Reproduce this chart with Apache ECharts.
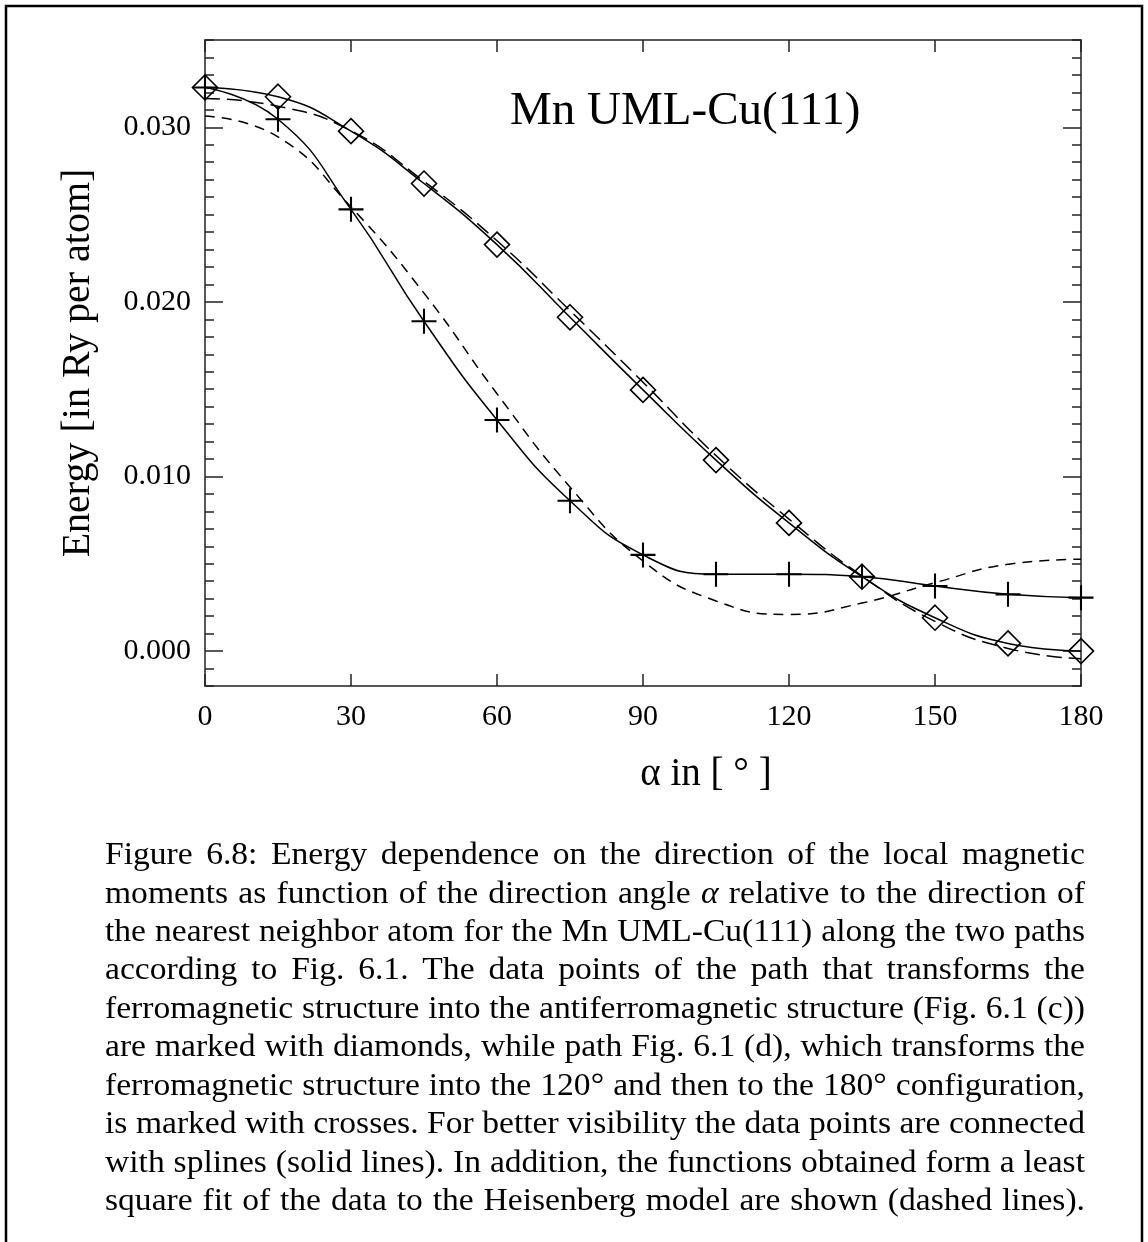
<!DOCTYPE html>
<html><head><meta charset="utf-8">
<script src="https://cdn.jsdelivr.net/npm/echarts@6/dist/echarts.min.js"></script>
<style>html,body{margin:0;padding:0;background:#fff}#c{width:1148px;height:1242px}</style>
</head><body><div id="c"></div><script>
// ---- data ----
const angles = [0, 15, 30, 45, 60, 75, 90, 105, 120, 135, 150, 165, 180];
const diamondEnergy = [0.03228, 0.03175, 0.02978, 0.02678, 0.02328, 0.01912, 0.01496, 0.01094, 0.00734, 0.00426, 0.00191, 0.00044, 0.0000];
const crossEnergy   = [0.03228, 0.03046, 0.02530, 0.01889, 0.01324, 0.00861, 0.00551, 0.00440, 0.00440, 0.00426, 0.00373, 0.00325, 0.00306];
const diamondFit    = [0.03165, 0.03121, 0.02980, 0.02690, 0.02350, 0.01950, 0.01540, 0.01120, 0.00756, 0.00430, 0.00170, 0.00015, -0.00044];
const crossFit      = [0.03064, 0.02945, 0.02543, 0.02050, 0.01474, 0.00940, 0.00516, 0.00287, 0.00210, 0.00275, 0.00392, 0.00497, 0.00526];
const yMajorTicks = [0, 0.01, 0.02, 0.03];
const titleText = 'Mn UML-Cu(111)';
const xName = 'α in [ ° ]';
const yName = 'Energy [in Ry per atom]';
const captionLines = [
  'Figure 6.8: Energy dependence on the direction of the local magnetic',
  'moments as function of the direction angle α relative to the direction of',
  'the nearest neighbor atom for the Mn UML-Cu(111) along the two paths',
  'according to Fig. 6.1. The data points of the path that transforms the',
  'ferromagnetic structure into the antiferromagnetic structure (Fig. 6.1 (c))',
  'are marked with diamonds, while path Fig. 6.1 (d), which transforms the',
  'ferromagnetic structure into the 120° and then to the 180° configuration,',
  'is marked with crosses. For better visibility the data points are connected',
  'with splines (solid lines). In addition, the functions obtained form a least',
  'square fit of the data to the Heisenberg model are shown (dashed lines).'
];

const FONT = '"Liberation Serif", "Times New Roman", serif';
const pairs = (ys) => angles.map((a, i) => [a, ys[i]]);

// ---- caption, justified word by word ----
const capLeft = 105, capRight = 1085, capTop = 856, capStep = 38.45, capSize = 31, minGap = 8.5;
const ctx = document.createElement('canvas').getContext('2d');
function wordWidth(w) {
  ctx.font = (w === 'α' ? 'italic ' : '') + capSize + 'px ' + FONT;
  return ctx.measureText(w).width;
}
let sx = 1.2;
captionLines.forEach(line => {
  const words = line.split(' ');
  const tot = words.reduce((s, w) => s + wordWidth(w), 0);
  const need = (capRight - capLeft - minGap * (words.length - 1)) / tot;
  if (need < sx) sx = need;
});
const captionEls = [];
captionLines.forEach((line, i) => {
  const words = line.split(' ');
  const ws = words.map(w => wordWidth(w) * sx);
  const tot = ws.reduce((s, v) => s + v, 0);
  const gap = (capRight - capLeft - tot) / (words.length - 1);
  let x = capLeft;
  words.forEach((w, j) => {
    captionEls.push({
      type: 'text', x: x, y: capTop + i * capStep, scaleX: sx, silent: true,
      style: { text: w, fontFamily: FONT, fontSize: capSize, fontStyle: w === 'α' ? 'italic' : 'normal',
               fill: '#000', align: 'left', verticalAlign: 'middle' }
    });
    x += ws[j] + gap;
  });
});

const axisCol = '#222';
const chart = echarts.init(document.getElementById('c'), null, { renderer: 'canvas' });
const yBase = { type: 'value', min: -0.002, max: 0.035, splitLine: { show: false } };
chart.setOption({
  animation: false,
  backgroundColor: '#fff',
  title: { text: titleText, left: 505, top: 83,
    textStyle: { fontFamily: FONT, fontSize: 47, fontWeight: 'normal', color: '#000' } },
  grid: { left: 205, top: 40, right: 67, bottom: 556 },
  xAxis: [
    { type: 'value', position: 'bottom', min: 0, max: 180, interval: 30,
      axisLine: { show: true, onZero: false, lineStyle: { color: axisCol, width: 1.5 } },
      axisTick: { inside: true, length: 12, lineStyle: { color: axisCol, width: 1.5 } },
      axisLabel: { fontFamily: FONT, fontSize: 30, color: '#000', margin: 16 },
      splitLine: { show: false } },
    { type: 'value', position: 'top', min: 0, max: 180, interval: 30,
      axisLine: { show: true, onZero: false, lineStyle: { color: axisCol, width: 1.5 } },
      axisTick: { inside: true, length: 12, lineStyle: { color: axisCol, width: 1.5 } },
      axisLabel: { show: false }, splitLine: { show: false } }
  ],
  yAxis: [
    Object.assign({}, yBase, { position: 'left',
      name: yName, nameLocation: 'middle', nameGap: 107,
      nameTextStyle: { fontFamily: FONT, fontSize: 40, color: '#000' },
      axisLine: { show: true, onZero: false, lineStyle: { color: axisCol, width: 1.5 } },
      axisTick: { inside: true, length: 18, customValues: yMajorTicks, lineStyle: { color: axisCol, width: 1.5 } },
      axisLabel: { customValues: yMajorTicks, fontFamily: FONT, fontSize: 30, color: '#000', margin: 14,
                   formatter: v => v.toFixed(3) } }),
    Object.assign({}, yBase, { position: 'left', interval: 0.001,
      axisLine: { show: false, onZero: false },
      axisTick: { inside: true, length: 9, lineStyle: { color: axisCol, width: 1.5 } },
      axisLabel: { show: false } }),
    Object.assign({}, yBase, { position: 'right',
      axisLine: { show: true, onZero: false, lineStyle: { color: axisCol, width: 1.5 } },
      axisTick: { inside: true, length: 18, customValues: yMajorTicks, lineStyle: { color: axisCol, width: 1.5 } },
      axisLabel: { show: false } }),
    Object.assign({}, yBase, { position: 'right', interval: 0.001,
      axisLine: { show: false, onZero: false },
      axisTick: { inside: true, length: 9, lineStyle: { color: axisCol, width: 1.5 } },
      axisLabel: { show: false } })
  ],
  series: [
    { type: 'line', name: 'fit (c)', data: pairs(diamondFit), smooth: true, symbol: 'none', clip: true,
      lineStyle: { color: '#000', width: 1.5, type: [15, 7] }, z: 2 },
    { type: 'line', name: 'fit (d)', data: pairs(crossFit), smooth: true, symbol: 'none', clip: true,
      lineStyle: { color: '#000', width: 1.5, type: [10, 7] }, z: 2 },
    { type: 'line', name: 'path (c)', data: pairs(diamondEnergy), smooth: true, clip: true,
      symbol: 'diamond', symbolSize: 25, showAllSymbol: true,
      itemStyle: { color: 'rgba(255,255,255,0)', borderColor: '#000', borderWidth: 1.6 },
      lineStyle: { color: '#000', width: 1.5 }, z: 3 },
    { type: 'line', name: 'path (d)', data: pairs(crossEnergy), smooth: true, clip: true,
      symbol: 'path://M0,11 L24,11 L24,13 L0,13 Z M11,0 L13,0 L13,24 L11,24 Z', symbolSize: 25, showAllSymbol: true,
      itemStyle: { color: '#000', borderWidth: 0 },
      lineStyle: { color: '#000', width: 1.5 }, z: 3 }
  ],
  graphic: [
    { type: 'polyline', silent: true, shape: { points: [[6, 1242], [6, 6], [1142, 6], [1142, 1242]] },
      style: { stroke: '#000', lineWidth: 2.5, fill: null } },
    { type: 'text', x: 706, y: 775, silent: true,
      style: { text: xName, fontFamily: FONT, fontSize: 39, fill: '#000', align: 'center', verticalAlign: 'middle' } }
  ].concat(captionEls)
});
</script></body></html>
